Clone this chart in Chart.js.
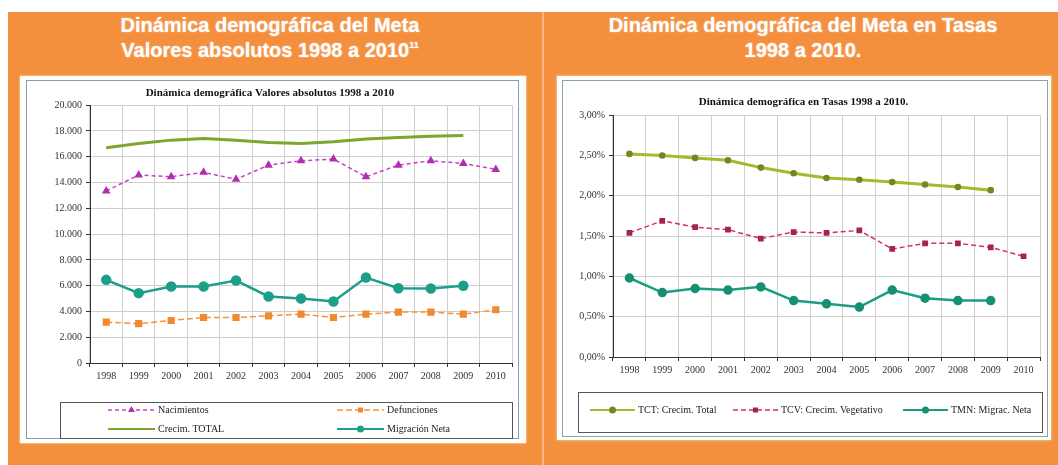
<!DOCTYPE html>
<html>
<head>
<meta charset="utf-8">
<script src="https://cdn.jsdelivr.net/npm/chart.js@4.4.1/dist/chart.umd.min.js"></script>
<style>
  body { margin: 0; width: 1058px; height: 465px; background: #fff; position: relative; overflow: hidden; font-family: "Liberation Sans", Arial, sans-serif; }
  .orange { position: absolute; top: 12px; bottom: 0; background: #f38f3d; }
  .head { position: absolute; top: 13px; color: #fff; font-weight: bold; font-size: 20px; line-height: 25px; text-align: center; text-shadow: 0 0 2px rgba(255,255,255,0.6); }
  .head sup { font-size: 9px; vertical-align: 9px; line-height: 0; }
  .card { position: absolute; background: #fff; }
  .frame { position: absolute; border: 1px solid #8c9cad; }
  canvas { position: absolute; }
</style>
</head>
<body>
<div class="orange" style="left:8px; right:0;"></div>
<div style="position:absolute; left:542px; width:2px; top:12px; bottom:0; background:#f9b783;"></div>
<div class="head" style="left:40px; width:460px;">Dinámica demográfica del Meta<br>Valores absolutos 1998 a 2010<sup>11</sup></div>
<div class="head" style="left:560px; width:486px;">Dinámica demográfica del Meta en Tasas<br>1998 a 2010.</div>

<div class="card" style="left:20px; top:76px; width:506px; height:367px; box-shadow: 0 0 2px #fff6d8;"></div>
<div class="frame" style="left:26px; top:80px; width:491px; height:357px;"></div>
<div class="card" style="left:557px; top:76px; width:494px; height:364px; box-shadow: 0 0 3px #d8efb0;"></div>
<div class="frame" style="left:562px; top:80px; width:484px; height:355px; border-color:#8da59b;"></div>

<canvas id="absChart" style="left:28px; top:82px;" width="492" height="358"></canvas>
<canvas id="rateChart" style="left:563px; top:82px;" width="484" height="355"></canvas>

<script>
// years on the x axis
const years = ['1998','1999','2000','2001','2002','2003','2004','2005','2006','2007','2008','2009','2010'];

// absolute values
const nacimientos   = [13350, 14580, 14450, 14790, 14250, 15350, 15690, 15820, 14450, 15350, 15690, 15480, 15020];
const defunciones   = [3170, 3050, 3300, 3530, 3530, 3660, 3790, 3530, 3790, 3950, 3950, 3790, 4130];
const crecimTotal   = [16700, 17030, 17290, 17420, 17290, 17110, 17030, 17160, 17370, 17500, 17600, 17650, null];
const migracionNeta = [6450, 5420, 5930, 5930, 6400, 5160, 5000, 4770, 6630, 5800, 5780, 5990, null];
const absTickLabels = ['0','2.000','4.000','6.000','8.000','10.000','12.000','14.000','16.000','18.000','20.000'];

// rates, in percent
const tasaTCT = [2.52, 2.50, 2.47, 2.44, 2.35, 2.28, 2.22, 2.20, 2.17, 2.14, 2.11, 2.07, null];
const tasaTCV = [1.54, 1.69, 1.61, 1.58, 1.47, 1.55, 1.54, 1.57, 1.34, 1.41, 1.41, 1.36, 1.25];
const tasaTMN = [0.98, 0.80, 0.85, 0.83, 0.87, 0.70, 0.66, 0.62, 0.83, 0.73, 0.70, 0.70, null];
const rateTickLabels = ['0,00%','0,50%','1,00%','1,50%','2,00%','2,50%','3,00%'];

const serif = '"Liberation Serif", "Times New Roman", serif';

// legend drawn inside a box, like the excel original
const boxLegend = {
  id: 'boxLegend',
  afterDraw(chart, args, opts) {
    if (!opts || !opts.items) return;
    const ctx = chart.ctx;
    ctx.save();
    ctx.strokeStyle = '#555';
    ctx.lineWidth = 1;
    ctx.setLineDash([]);
    ctx.strokeRect(opts.x + 0.5, opts.y + 0.5, opts.w, opts.h);
    ctx.font = '10px ' + serif;
    ctx.textBaseline = 'middle';
    chart.data.datasets.forEach((ds, i) => {
      const it = opts.items[i];
      const x2 = it.x + opts.sample;
      ctx.strokeStyle = ds.borderColor;
      ctx.lineWidth = Math.min(ds.borderWidth, 2);
      ctx.setLineDash(ds.borderDash || []);
      ctx.beginPath();
      ctx.moveTo(it.x, it.y);
      ctx.lineTo(x2, it.y);
      ctx.stroke();
      ctx.setLineDash([]);
      if (ds.pointRadius > 0) {
        ctx.fillStyle = ds.pointBackgroundColor || ds.borderColor;
        ctx.strokeStyle = ds.pointBorderColor || ds.borderColor;
        Chart.helpers.drawPoint(ctx, { pointStyle: ds.pointStyle, radius: 2.5, rotation: 0, borderWidth: 1 }, (it.x + x2) / 2, it.y);
      }
      ctx.fillStyle = '#222';
      ctx.fillText(ds.label, x2 + 3, it.y);
    });
    ctx.restore();
  }
};

function axes(max, step, labels, yWidth) {
  return {
    x: {
      offset: true,
      grid: { offset: true, color: '#cfcfcf', tickColor: '#333', tickLength: 4, drawTicks: true },
      border: { color: '#333', width: 1 },
      ticks: { font: { family: serif, size: 10 }, color: '#333', padding: 3, maxRotation: 0, autoSkip: false },
      afterFit: (s) => { s.height = 22; }
    },
    y: {
      min: 0, max: max,
      grid: { color: '#cfcfcf', tickColor: '#333', tickLength: 4 },
      border: { color: '#333', width: 1 },
      ticks: { stepSize: step, font: { family: serif, size: 10 }, color: '#333', padding: 4,
               callback: (v, i) => labels[i] },
      afterFit: (s) => { s.width = yWidth; }
    }
  };
}

new Chart(document.getElementById('absChart'), {
  type: 'line',
  data: {
    labels: years,
    datasets: [
      { label: 'Nacimientos', data: nacimientos, borderColor: '#c93fc9', backgroundColor: '#c93fc9', borderWidth: 1.5, borderDash: [4, 3],
        pointStyle: 'triangle', pointRadius: 3.5, pointBackgroundColor: '#b02fb0', pointBorderColor: '#b02fb0' },
      { label: 'Defunciones', data: defunciones, borderColor: '#f5923e', backgroundColor: '#f5923e', borderWidth: 1.5, borderDash: [6, 3],
        pointStyle: 'rect', pointRadius: 4, pointBackgroundColor: '#f08a30', pointBorderColor: '#f08a30' },
      { label: 'Crecim. TOTAL', data: crecimTotal, borderColor: '#7fa52c', backgroundColor: '#7fa52c', borderWidth: 3,
        pointRadius: 0 },
      { label: 'Migración Neta', data: migracionNeta, borderColor: '#1c9e88', backgroundColor: '#1c9e88', borderWidth: 2.5,
        pointStyle: 'circle', pointRadius: 4, pointBackgroundColor: '#1c9e88', pointBorderColor: '#1c9e88' }
    ]
  },
  options: {
    responsive: false,
    animation: false,
    layout: { padding: { left: 0, right: 8, top: 0, bottom: 55 } },
    plugins: {
      legend: { display: false },
      tooltip: { enabled: false },
      title: { display: true, text: 'Dinámica demográfica Valores absolutos 1998 a 2010', color: '#111',
               font: { family: serif, size: 11, weight: 'bold' }, padding: { top: 5, bottom: 5 } },
      boxLegend: { x: 32, y: 320, w: 452, h: 36, sample: 47,
                   items: [{ x: 80, y: 328 }, { x: 309, y: 328 }, { x: 80, y: 347 }, { x: 309, y: 347 }] }
    },
    scales: axes(20000, 2000, absTickLabels, 62)
  },
  plugins: [boxLegend]
});

new Chart(document.getElementById('rateChart'), {
  type: 'line',
  data: {
    labels: years,
    datasets: [
      { label: 'TCT: Crecim. Total', data: tasaTCT, borderColor: '#a3bb2c', backgroundColor: '#a3bb2c', borderWidth: 3,
        pointStyle: 'circle', pointRadius: 1.8, pointBackgroundColor: '#6f8a22', pointBorderColor: '#6f8a22' },
      { label: 'TCV: Crecim. Vegetativo', data: tasaTCV, borderColor: '#d0316a', backgroundColor: '#d0316a', borderWidth: 1.5, borderDash: [5, 3],
        pointStyle: 'rect', pointRadius: 3, pointBackgroundColor: '#a5244f', pointBorderColor: '#a5244f' },
      { label: 'TMN: Migrac. Neta', data: tasaTMN, borderColor: '#1a9e80', backgroundColor: '#1a9e80', borderWidth: 2.5,
        pointStyle: 'circle', pointRadius: 3.5, pointBackgroundColor: '#178f73', pointBorderColor: '#178f73' }
    ]
  },
  options: {
    responsive: false,
    animation: false,
    layout: { padding: { left: 0, right: 3, top: 0, bottom: 58 } },
    plugins: {
      legend: { display: false },
      tooltip: { enabled: false },
      title: { display: true, text: 'Dinámica demográfica en Tasas 1998 a 2010.', color: '#111',
               font: { family: serif, size: 11, weight: 'bold' }, padding: { top: 14, bottom: 6 } },
      boxLegend: { x: 15, y: 310, w: 464, h: 40, sample: 45,
                   items: [{ x: 27, y: 328 }, { x: 170, y: 328 }, { x: 340, y: 328 }] }
    },
    scales: axes(3, 0.5, rateTickLabels, 50)
  },
  plugins: [boxLegend]
});
</script>
</body>
</html>
